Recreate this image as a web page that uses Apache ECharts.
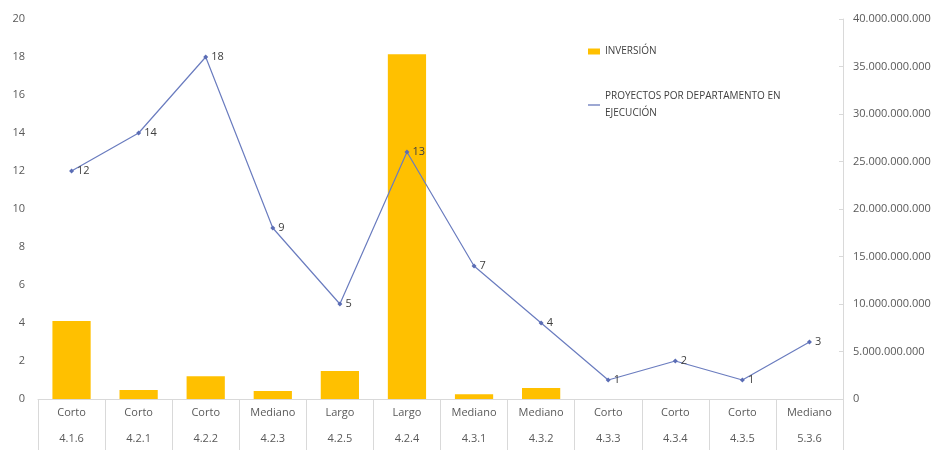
<!DOCTYPE html>
<html><head><meta charset="utf-8">
<script src="https://cdn.jsdelivr.net/npm/echarts@6/dist/echarts.min.js"></script>
<style>html,body{margin:0;padding:0;background:#fff}#c{width:948px;height:450px}</style>
</head><body><div id="c"></div>
<script>
const plazos = ['Corto','Corto','Corto','Mediano','Largo','Largo','Mediano','Mediano','Corto','Corto','Corto','Mediano'];
const codigos = ['4.1.6','4.2.1','4.2.2','4.2.3','4.2.5','4.2.4','4.3.1','4.3.2','4.3.3','4.3.4','4.3.5','5.3.6'];
const inversion = [8200000000, 950000000, 2400000000, 850000000, 2950000000, 36300000000, 500000000, 1150000000, 0, 0, 0, 0];
const proyectos = [12, 14, 18, 9, 5, 13, 7, 4, 1, 2, 1, 3];
const leftTicks = {min: 0, max: 20, interval: 2};
const rightTicks = {min: 0, max: 40000000000, interval: 5000000000};

const categories = codigos.map((c, i) => plazos[i] + '\n' + c);
const fmtThousands = v => String(Math.round(v)).replace(/\B(?=(\d{3})+(?!\d))/g, '.');

const chart = echarts.init(document.getElementById('c'), null, {renderer: 'canvas'});
chart.setOption({
  backgroundColor: '#fff',
  animation: false,
  textStyle: {fontFamily: 'Open Sans'},
  grid: {left: 38, right: 105, top: 19, bottom: 51, containLabel: false, outerBoundsMode: 'none'},
  legend: {
    orient: 'vertical', left: 583, top: 38, itemGap: 28,
    itemWidth: 12, itemHeight: 6,
    textStyle: {fontSize: 10, color: '#404040', width: 240, overflow: 'break', lineHeight: 17},
    formatter: n => n === 'PROYECTOS POR DEPARTAMENTO EN EJECUCIÓN' ? 'PROYECTOS POR DEPARTAMENTO EN\nEJECUCIÓN' : n,
    data: [
      {name: 'INVERSIÓN', icon: 'rect'},
      {name: 'PROYECTOS POR DEPARTAMENTO EN EJECUCIÓN', icon: 'path://M0,0 L20,0 L20,2 L0,2 Z', itemStyle: {color: '#5b6db5'}}
    ]
  },
  xAxis: {
    type: 'category', data: categories,
    axisLine: {show: true, lineStyle: {color: '#d9d9d9'}},
    axisTick: {show: true, length: 51, lineStyle: {color: '#d9d9d9'}},
    axisLabel: {fontSize: 11, color: '#595959', lineHeight: 26, margin: 1, interval: 0}
  },
  yAxis: [
    {type: 'value', min: leftTicks.min, max: leftTicks.max, interval: leftTicks.interval,
     splitLine: {show: false}, axisLine: {show: false}, axisTick: {show: false},
     axisLabel: {fontSize: 11, color: '#595959', margin: 13}},
    {type: 'value', min: rightTicks.min, max: rightTicks.max, interval: rightTicks.interval,
     position: 'right', splitLine: {show: false},
     axisLine: {show: true, lineStyle: {color: '#d9d9d9'}},
     axisTick: {show: true, inside: true, length: 4, lineStyle: {color: '#d9d9d9'}},
     axisLabel: {fontSize: 11, color: '#595959', margin: 10, formatter: fmtThousands}}
  ],
  series: [
    {name: 'INVERSIÓN', type: 'bar', yAxisIndex: 1, data: inversion, barWidth: '57%',
     itemStyle: {color: '#FFC000'}},
    {name: 'PROYECTOS POR DEPARTAMENTO EN EJECUCIÓN', type: 'line', yAxisIndex: 0, data: proyectos,
     symbol: 'diamond', symbolSize: 5,
     itemStyle: {color: '#5b6db5'}, lineStyle: {color: '#6a7cbf', width: 1.2},
     label: {show: true, position: 'right', distance: 3, fontSize: 11, color: '#404040'}}
  ]
});
</script></body></html>
